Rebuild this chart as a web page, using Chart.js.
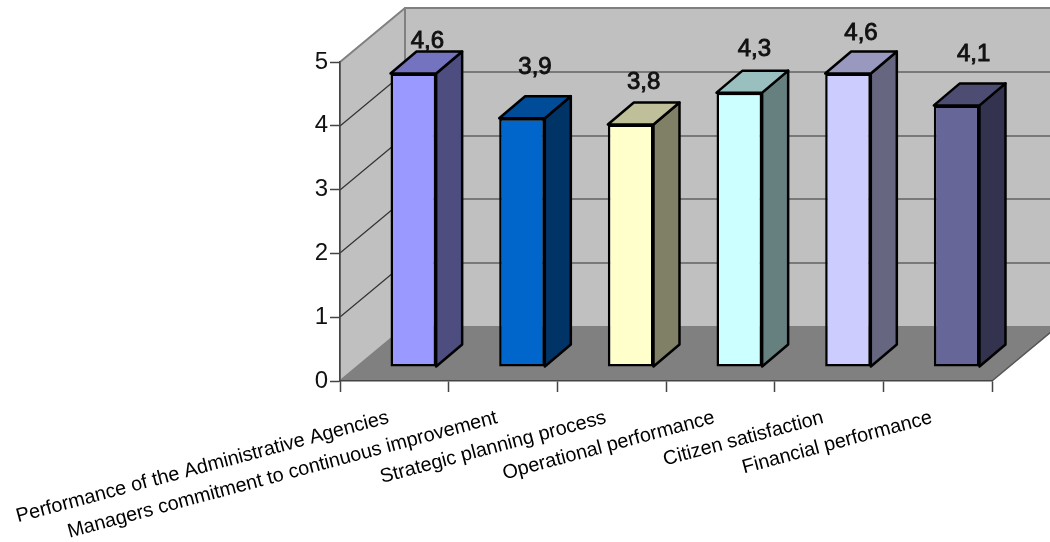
<!DOCTYPE html>
<html>
<head>
<meta charset="utf-8">
<title>Performance scores</title>
<script src="https://cdn.jsdelivr.net/npm/chart.js@4"></script>
<style>
    html, body { margin: 0; padding: 0; background: #fff; }
    canvas { display: block; }
</style>
</head>
<body>
<canvas id="myChart" width="1050" height="542"></canvas>
<script>
const categories = [
    'Performance of the Administrative Agencies',
    'Managers commitment to continuous improvement',
    'Strategic planning process',
    'Operational performance',
    'Citizen satisfaction',
    'Financial performance'
];
const scores = [4.6, 3.9, 3.8, 4.3, 4.6, 4.1];
const scoreTicks = [0, 1, 2, 3, 4, 5];

const frontColors = ['#9999ff', '#0066cc', '#ffffcc', '#ccffff', '#ccccff', '#666699'];
const topColors = ['#7373bf', '#004c99', '#bfbf99', '#99bfbf', '#9999bf', '#4d4d73'];
const sideColors = ['#4d4d80', '#003366', '#808066', '#668080', '#666680', '#333350'];

// how far each value label sits from its bar's top, by hand
const labelLift = [
    { x: 14, y: 26 },
    { x: 13, y: 44 },
    { x: 13, y: 36 },
    { x: 15, y: 37 },
    { x: 13, y: 34 },
    { x: 17, y: 44 }
];

// oblique projection: walls run back by this much
const WALL_DX = 65;
const WALL_DY = 54;
// bars stand partway into the floor
const BAR_SHIFT_X = 19;
const BAR_SHIFT_Y = 14;
const BAR_DX = 26;
const BAR_DY = 22;

function fillPoly(ctx, points, fill, stroke, lineWidth) {
    ctx.beginPath();
    points.forEach(([x, y], i) => (i ? ctx.lineTo(x, y) : ctx.moveTo(x, y)));
    ctx.closePath();
    ctx.fillStyle = fill;
    ctx.fill();
    if (stroke) {
        ctx.strokeStyle = stroke;
        ctx.lineWidth = lineWidth;
        ctx.lineJoin = 'round';
        ctx.stroke();
    }
}

const wallsPlugin = {
    id: 'walls',
    beforeDraw(chart) {
        const { ctx, chartArea: { left, right, top, bottom }, scales: { y } } = chart;
        ctx.save();
        fillPoly(ctx, [[left, bottom], [left + WALL_DX, bottom - WALL_DY], [left + WALL_DX, top - WALL_DY], [left, top]], '#c0c0c0', '#808080', 2);
        fillPoly(ctx, [[left + WALL_DX, bottom - WALL_DY], [right + WALL_DX, bottom - WALL_DY], [right + WALL_DX, top - WALL_DY], [left + WALL_DX, top - WALL_DY]], '#c0c0c0', '#808080', 2);
        fillPoly(ctx, [[left, bottom], [right, bottom], [right + WALL_DX, bottom - WALL_DY], [left + WALL_DX, bottom - WALL_DY]], '#808080');

        // floor's right edge
        ctx.strokeStyle = '#555';
        ctx.lineWidth = 1.5;
        ctx.beginPath();
        ctx.moveTo(right, bottom);
        ctx.lineTo(right + WALL_DX, bottom - WALL_DY);
        ctx.stroke();

        // gridlines bend round from the side wall onto the back wall
        ctx.strokeStyle = '#333';
        ctx.lineWidth = 1.2;
        scoreTicks.slice(1, -1).forEach(tick => {
            const py = Math.round(y.getPixelForValue(tick));
            ctx.beginPath();
            ctx.moveTo(left, py);
            ctx.lineTo(left + WALL_DX, py - WALL_DY);
            ctx.lineTo(right + WALL_DX, py - WALL_DY);
            ctx.stroke();
        });
        ctx.restore();
    }
};

const barFacesPlugin = {
    id: 'barFaces',
    beforeDatasetsDraw(chart) {
        const { ctx } = chart;
        ctx.save();
        ctx.translate(BAR_SHIFT_X, -BAR_SHIFT_Y);
        chart.getDatasetMeta(0).data.forEach((bar, i) => {
            const { x, y, base, width } = bar.getProps(['x', 'y', 'base', 'width'], true);
            const l = x - width / 2;
            const r = x + width / 2;
            fillPoly(ctx, [[r, y], [r + BAR_DX, y - BAR_DY], [r + BAR_DX, base - BAR_DY], [r, base]], sideColors[i], '#000', 2.5);
            fillPoly(ctx, [[l, y], [l + BAR_DX, y - BAR_DY], [r + BAR_DX, y - BAR_DY], [r, y]], topColors[i], '#000', 2.5);
        });
    },
    afterDatasetsDraw(chart) {
        const { ctx } = chart;
        ctx.restore();

        // value labels, with a decimal comma
        ctx.save();
        ctx.font = '24px "Liberation Sans", Arial, sans-serif';
        ctx.textAlign = 'center';
        ctx.textBaseline = 'alphabetic';
        ctx.fillStyle = '#111';
        ctx.strokeStyle = '#111';
        ctx.lineWidth = 0.9;
        chart.getDatasetMeta(0).data.forEach((bar, i) => {
            const text = String(scores[i]).replace('.', ',');
            const lx = bar.x + BAR_SHIFT_X + labelLift[i].x;
            const ly = bar.y - BAR_SHIFT_Y - labelLift[i].y;
            ctx.fillText(text, lx, ly);
            ctx.strokeText(text, lx, ly);
        });
        ctx.restore();
    }
};

new Chart(document.getElementById('myChart').getContext('2d'), {
    type: 'bar',
    data: {
        labels: categories,
        datasets: [{
            data: scores,
            backgroundColor: frontColors,
            borderColor: '#000',
            borderWidth: 2.5,
            borderSkipped: false,
            barPercentage: 0.42,
            categoryPercentage: 1,
            clip: false
        }]
    },
    options: {
        responsive: false,
        animation: false,
        layout: { padding: { top: 62, right: 58 } },
        plugins: {
            legend: { display: false },
            tooltip: { enabled: false }
        },
        scales: {
            x: {
                // long rotated labels must not push the plot to the right
                afterFit(scale) {
                    scale.height = 161;
                    scale.paddingLeft = 0;
                    scale.paddingRight = 0;
                },
                border: { color: '#444', width: 1.5 },
                grid: { drawOnChartArea: false, tickLength: 11, tickColor: '#444', tickWidth: 1.5 },
                ticks: {
                    autoSkip: false,
                    maxRotation: 15,
                    minRotation: 15,
                    padding: 14,
                    labelOffset: -6,
                    color: '#000',
                    font: { family: '"Liberation Sans", Arial, sans-serif', size: 19.8 }
                }
            },
            y: {
                min: 0,
                max: 5,
                afterFit(scale) { scale.width = 340; },
                afterBuildTicks(scale) { scale.ticks = scoreTicks.map(value => ({ value })); },
                border: { color: '#444', width: 1.5 },
                grid: { drawOnChartArea: false, tickLength: 10, tickColor: '#444', tickWidth: 1.5 },
                ticks: {
                    padding: 2,
                    color: '#111',
                    font: { family: '"Liberation Sans", Arial, sans-serif', size: 24 }
                }
            }
        }
    },
    plugins: [wallsPlugin, barFacesPlugin]
});
</script>
</body>
</html>
